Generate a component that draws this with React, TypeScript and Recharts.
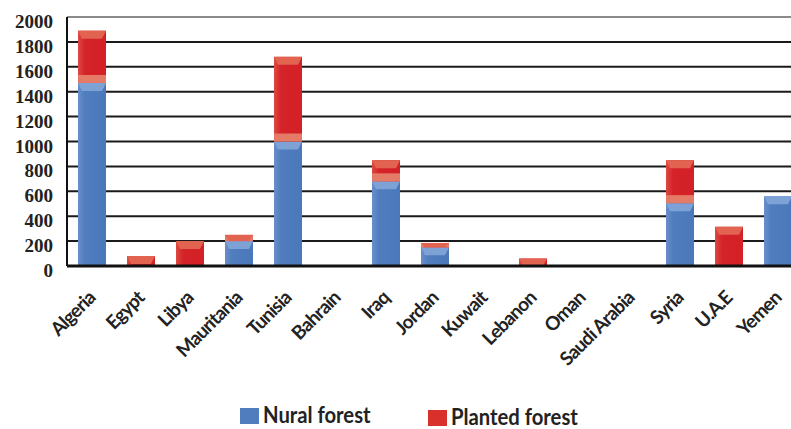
import { BarChart, Bar, XAxis, YAxis, CartesianGrid, ReferenceLine } from "recharts"

const countries = [
  "Algeria", "Egypt", "Libya", "Mauritania", "Tunisia", "Bahrain", "Iraq", "Jordan",
  "Kuwait", "Lebanon", "Oman", "Saudi Arabia", "Syria", "U.A.E", "Yemen",
]
const naturalForest = [1470, 0, 0, 200, 1000, 0, 680, 150, 0, 0, 0, 0, 505, 0, 560]
const plantedForest = [420, 80, 200, 50, 680, 0, 170, 35, 0, 60, 0, 0, 345, 315, 0]
const yTicks = [0, 200, 400, 600, 800, 1000, 1200, 1400, 1600, 1800, 2000]

const data = countries.map((name, i) => ({
  name,
  natural: naturalForest[i],
  planted: plantedForest[i],
}))

const labelFont = "Lato, 'Open Sans', sans-serif"

function NaturalShape(props: any) {
  const { x, y, width, height } = props
  if (!height || height <= 0) return null
  const cap = Math.min(8, height)
  return (
    <g>
      <rect x={x} y={y} width={width} height={height} fill="url(#blueGrad)" />
      <polygon
        points={`${x},${y} ${x + width},${y} ${x + width - 4},${y + cap} ${x + 4},${y + cap}`}
        fill="#7fa2d6"
      />
    </g>
  )
}

function PlantedShape(props: any) {
  const { x, y, width, height, payload } = props
  if (!height || height <= 0) return null
  const cap = Math.min(8, height)
  const band = payload && payload.natural > 0 ? Math.min(8, height) : 0
  return (
    <g>
      <rect x={x} y={y} width={width} height={height} fill="url(#redGrad)" />
      {band > 0 && (
        <rect x={x} y={y + height - band} width={width} height={band} fill="#e57a66" />
      )}
      <polygon
        points={`${x},${y} ${x + width},${y} ${x + width - 4},${y + cap} ${x + 4},${y + cap}`}
        fill="#e2634f"
      />
    </g>
  )
}

// rotated country label
function CountryTick(props: any) {
  const { x, payload } = props
  const ax = x + 5
  const ay = 299
  return (
    <text
      x={ax}
      y={ay}
      textAnchor="end"
      transform={`rotate(-45, ${ax}, ${ay})`}
      fontFamily={labelFont}
      fontWeight="bold"
      fontSize={19}
      letterSpacing={-0.8}
      fill="#222"
    >
      {payload.value}
    </text>
  )
}

function ValueTick(props: any) {
  const { y, payload } = props
  return (
    <text
      x={53}
      y={y}
      dy={11}
      textAnchor="end"
      fontFamily="'Liberation Serif', 'DejaVu Serif', serif"
      fontWeight="bold"
      fontSize={19}
      fill="#222"
    >
      {payload.value}
    </text>
  )
}

function LegendBox({ color, label, left, top }: { color: string; label: string; left: number; top: number }) {
  return (
    <div style={{ position: "absolute", left, top, display: "flex", alignItems: "flex-end" }}>
      <div style={{ width: 19, height: 16, background: color, marginRight: 4, marginBottom: 1 }} />
      <span
        style={{
          display: "inline-block",
          fontFamily: labelFont,
          fontWeight: "bold",
          fontSize: 22,
          color: "#222",
          lineHeight: "20px",
          transform: "scaleX(0.92)",
          transformOrigin: "left bottom",
          whiteSpace: "nowrap",
        }}
      >
        {label}
      </span>
    </div>
  )
}

export default function App() {
  return (
    <div
      style={{
        position: "absolute",
        left: 0,
        top: 0,
        width: 791,
        height: 429,
        overflow: "hidden",
        background: "#fff",
      }}
    >
      <BarChart
        width={802}
        height={429}
        data={data}
        margin={{ top: 17, right: 0, left: 0, bottom: 0 }}
        barSize={28}
      >
        <defs>
          <linearGradient id="blueGrad" x1="0" y1="0" x2="1" y2="0">
            <stop offset="0%" stopColor="#6a8fcb" />
            <stop offset="25%" stopColor="#4f7dbe" />
            <stop offset="100%" stopColor="#4a78ba" />
          </linearGradient>
          <linearGradient id="redGrad" x1="0" y1="0" x2="1" y2="0">
            <stop offset="0%" stopColor="#dd4a42" />
            <stop offset="25%" stopColor="#d4232a" />
            <stop offset="100%" stopColor="#d42027" />
          </linearGradient>
        </defs>
        <CartesianGrid vertical={false} stroke="#1a1a1a" strokeWidth={2} />
        <ReferenceLine y={2000} stroke="#8a8a8a" strokeWidth={2} />
        <XAxis
          dataKey="name"
          interval={0}
          height={163}
          tickLine={false}
          axisLine={{ stroke: "#111", strokeWidth: 3 }}
          tick={<CountryTick />}
        />
        <YAxis
          width={67}
          domain={[0, 2000]}
          ticks={yTicks}
          tickLine={false}
          axisLine={{ stroke: "#111", strokeWidth: 2 }}
          tick={<ValueTick />}
        />
        <Bar dataKey="natural" stackId="a" shape={<NaturalShape />} isAnimationActive={false} />
        <Bar dataKey="planted" stackId="a" shape={<PlantedShape />} isAnimationActive={false} />
      </BarChart>
      <LegendBox color="#4f7dbe" label="Nural forest" left={240} top={405} />
      <LegendBox color="#d9302c" label="Planted forest" left={428} top={407} />
    </div>
  )
}
